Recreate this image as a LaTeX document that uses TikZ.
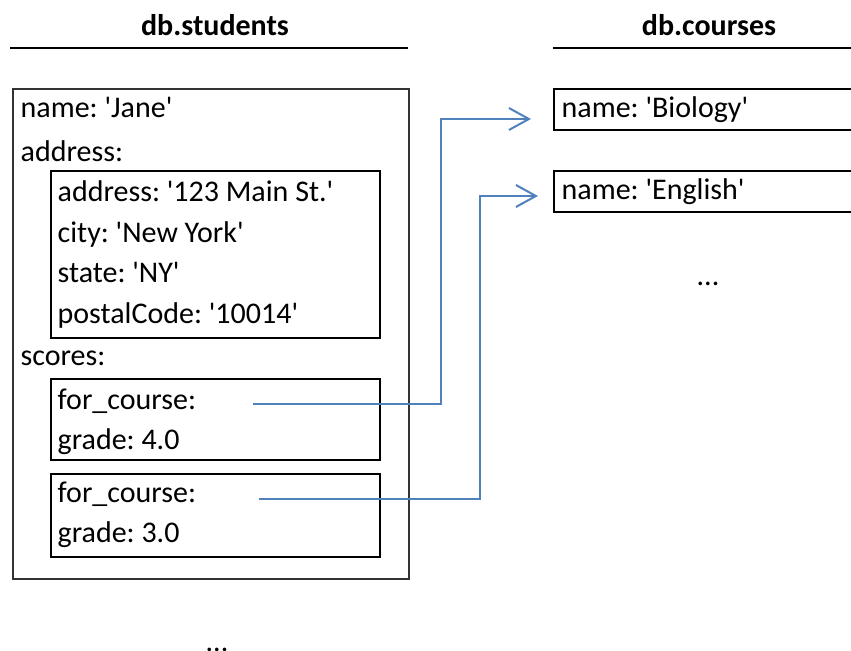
\documentclass[tikz,border=0pt]{standalone}
\usepackage{fontspec}
\setmainfont{Carlito}
\usetikzlibrary{arrows.meta}
\definecolor{linkblue}{RGB}{79,129,189}
\newcommand{\q}[1]{\textquotesingle#1\textquotesingle}
\frenchspacing
\begin{document}
\begin{tikzpicture}
[
    x=0.3pt, y=-0.3pt,
    every node/.style={font=\fontsize{9}{11}\selectfont, inner sep=0pt},
    field/.style={anchor=base west},
    title/.style={anchor=base, font=\fontsize{9}{11}\selectfont\bfseries},
    doc/.style={draw=black!80, line width=0.6pt, anchor=north west},
    subdoc/.style={draw=black, line width=0.6pt, anchor=north west},
    link/.style={draw=linkblue, line width=0.6pt, -{Straight Barb[length=6pt, width=6.6pt]}}
]
    \useasboundingbox (0,0) rectangle (851,651);

    \begin{scope}
        \node [title] (students) at (215,36) {db.students};
        \draw [line width=0.6pt] (10,48) -- (408,48);
        \node [doc, minimum width=118.8pt, minimum height=147pt] (jane) at (12,88) {};
        \node [field] (name) at (20,118) {name: \q{Jane}};
        \node [field] (addr) at (20,162) {address:};
        \node [subdoc, minimum width=98.7pt, minimum height=50pt] (addrbox) at (50,170) {};
        \node [field] (street) at (57,202) {address: \q{123 Main St.}};
        \node [field] (city) at (57,243) {city: \q{New York}};
        \node [field] (state) at (57,283) {state: \q{NY}};
        \node [field] (postal) at (57,324) {postalCode: \q{10014}};
        \node [field] (scores) at (20,366) {scores:};
        \node [subdoc, minimum width=98.7pt, minimum height=24.3pt] (score1) at (50,378) {};
        \node [field] (course1) at (57,410) {for\_course:};
        \node [field] (grade1) at (57,450) {grade: 4.0};
        \node [subdoc, minimum width=98.7pt, minimum height=24.9pt] (score2) at (50,473) {};
        \node [field] (course2) at (57,503) {for\_course:};
        \node [field] (grade2) at (57,543) {grade: 3.0};
        \node [anchor=base] (moredocs) at (217,652) {...};
    \end{scope}

    \begin{scope}
        \node [title] (courses) at (709,36) {db.courses};
        \draw [line width=0.6pt] (553,48) -- (851,48);
        \node [subdoc, minimum width=89.7pt, minimum height=12.3pt] (biology) at (553,88) {};
        \node [field] at (561,118) {name: \q{Biology}};
        \node [subdoc, minimum width=89.7pt, minimum height=12.3pt] (english) at (553,170) {};
        \node [field] at (561,200) {name: \q{English}};
        \node [anchor=base] (morecourses) at (708,286) {...};
    \end{scope}

    \coordinate (src1) at (253,404);
    \coordinate (bend1) at (441,119);
    \coordinate (tip1) at (531,119);
    \coordinate (src2) at (259,499);
    \coordinate (bend2) at (480,196);
    \coordinate (tip2) at (538,196);
    \draw [link] (src1) -| (bend1) -- (tip1);
    \draw [link] (src2) -| (bend2) -- (tip2);
\end{tikzpicture}
\end{document}
